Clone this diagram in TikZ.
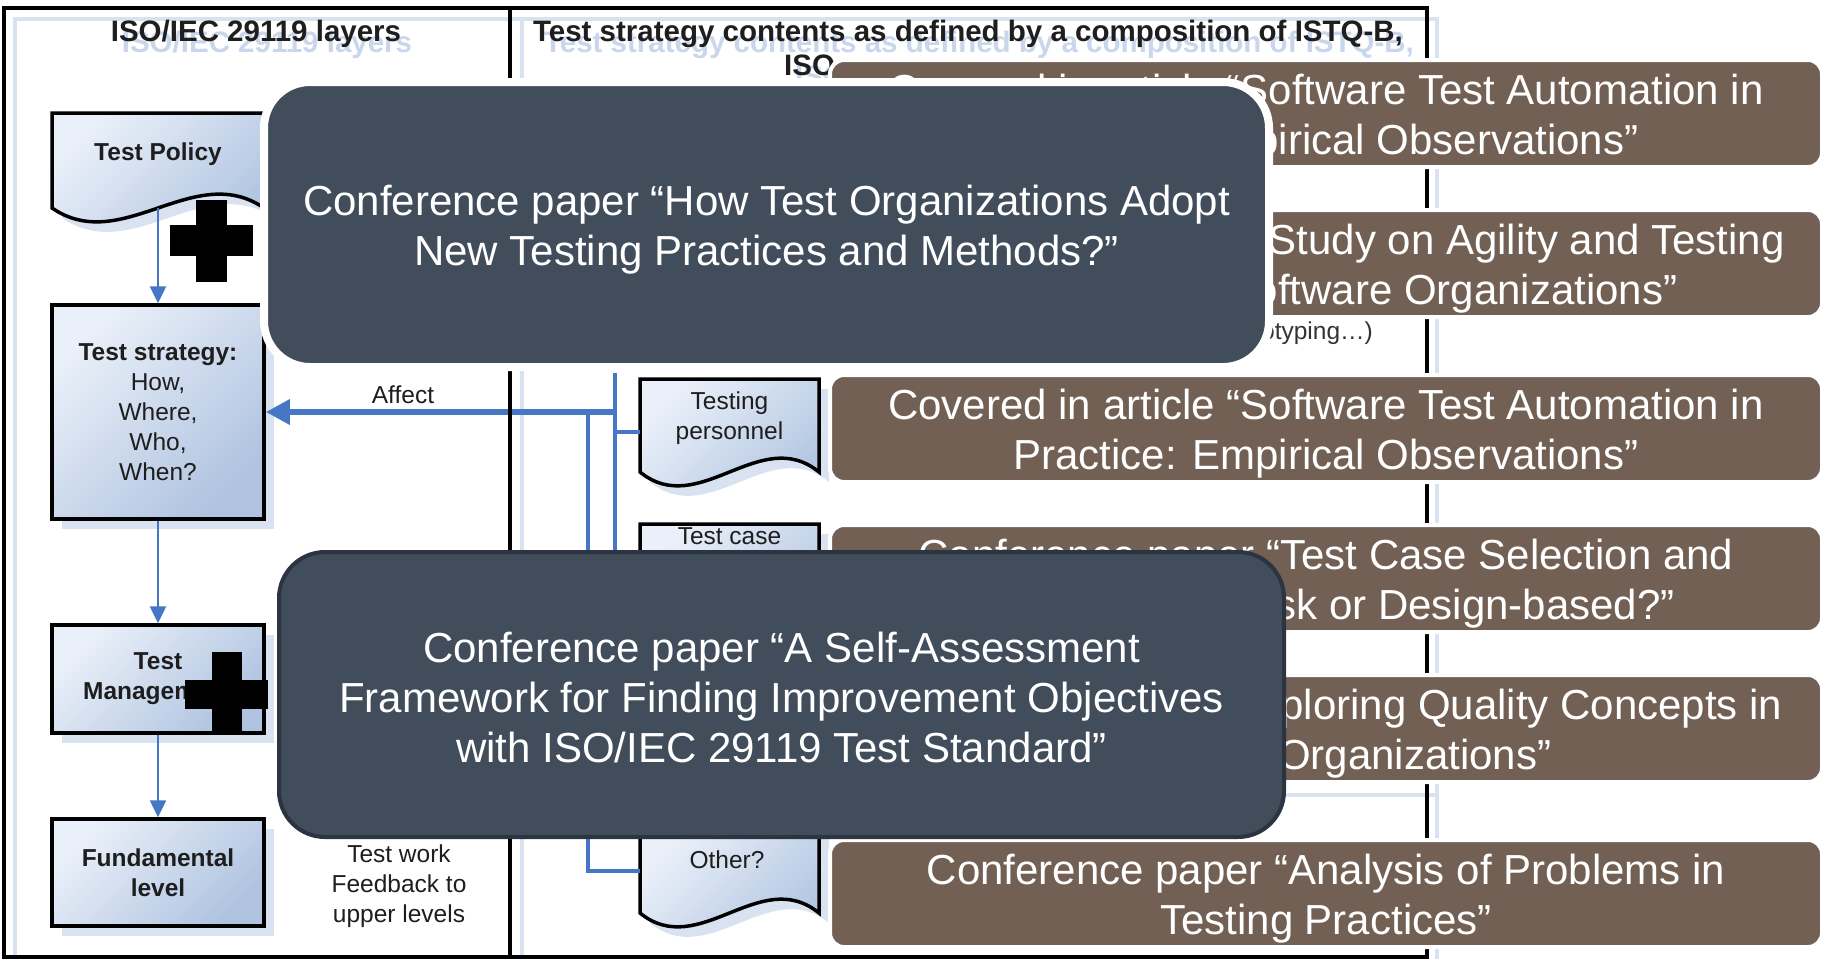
\documentclass[tikz,border=0pt]{standalone}
\usepackage{fontspec}
\setmainfont{Liberation Sans}
\usetikzlibrary{arrows.meta}
\definecolor{darkslate}{HTML}{414D5B}
\definecolor{darkedge}{HTML}{2B3440}
\definecolor{brownbox}{HTML}{726054}
\definecolor{busblue}{HTML}{4677C4}
\definecolor{boxlight}{HTML}{EAF0F9}
\definecolor{boxdark}{HTML}{AFC3E0}
\definecolor{shadowblue}{HTML}{D8E2F1}
\definecolor{ghostblue}{HTML}{C9D6EC}
\definecolor{inktext}{HTML}{1E1E1E}
\newcommand\paperbox[3]{%
  \node[brownpanel] (#1) at (1326,#2) {};
  \node[bigtext] (#1text) at (1326,#2+5) {#3};}
\begin{document}
\begin{tikzpicture}[x=1pt,y=-1pt,
  bigtext/.style={font=\fontsize{42}{50}\selectfont, text=white, align=center, inner sep=0pt},
  brownpanel/.style={fill=brownbox, draw=white, line width=4pt, rounded corners=14pt,
    minimum width=992pt, minimum height=107pt, inner sep=0pt},
  darkpanel/.style={fill=darkslate, rounded corners=46pt, inner sep=0pt,
    minimum width=1005pt, minimum height=285pt},
  headtext/.style={font=\bfseries\fontsize{29.5}{34}\selectfont, text=inktext, inner sep=0pt},
  ghosttext/.style={font=\bfseries\fontsize{29.5}{34}\selectfont, text=ghostblue, inner sep=0pt},
  boxlabel/.style={font=\bfseries\fontsize{24.5}{30}\selectfont, text=inktext, align=center, inner sep=0pt},
  smalltext/.style={font=\fontsize{24.5}{30}\selectfont, text=inktext, align=center, inner sep=0pt},
  layerbox/.style={draw=black, line width=3.5pt, top color=boxlight, bottom color=boxdark, shading angle=45,
    minimum width=212pt, inner sep=0pt, align=center, text=inktext,
    font=\bfseries\fontsize{24.5}{30}\selectfont,
    preaction={fill=shadowblue, transform canvas={shift={(10pt,-10pt)}}}},
  docshape/.style={draw=black, line width=3.5pt, top color=boxlight, bottom color=boxdark, shading angle=45},
  docshadow/.style={fill=shadowblue, shift={(10,10)}},
  area/.style={inner sep=0pt, minimum width=179pt},
  flowarrow/.style={draw=busblue, line width=2.5pt, -{Triangle[length=17pt,width=16pt]}},
  affectarrow/.style={draw=busblue, line width=6pt, -{Triangle[length=24pt,width=24pt]}},
  busline/.style={draw=busblue, line width=4.5pt},
  frameline/.style={draw=black, line width=3.5pt},
  frameshadow/.style={draw=shadowblue, line width=4pt}
]
\useasboundingbox[fill=white] (0,0) rectangle (1828,959);

% frame shadows
\draw[frameshadow] (15,959) -- (15,19) -- (1437,19) -- (1437,959);
\draw[frameshadow] (522,19) -- (522,959);
\draw[frameshadow] (900,795) -- (1437,795);

% headers
\node[ghosttext, anchor=base] (ghostL) at (267,52) {ISO/IEC 29119 layers};
\node[headtext, anchor=base] (titleL) at (256,41) {ISO/IEC 29119 layers};
\node[ghosttext, anchor=base] (ghostR1) at (979,52) {Test strategy contents as defined by a composition of ISTQ-B,};
\node[headtext, anchor=base] (titleR1) at (968,41) {Test strategy contents as defined by a composition of ISTQ-B,};
\node[ghosttext, anchor=base west] (ghostR2) at (795,86) {ISO};
\node[headtext, anchor=base west] (titleR2) at (784,75) {ISO};

% test policy (document shape)
\fill[docshadow] (52,113) -- (264,113) -- (264,208) .. controls (194,160) and (122,256) .. (52,208) -- cycle;
\draw[docshape] (52,113) -- (264,113) -- (264,208) .. controls (194,160) and (122,256) .. (52,208) -- cycle;
\node[inner sep=0pt, minimum width=212pt, minimum height=95pt] (policy) at (158,160.5) {};
\node[boxlabel] (policytext) at (158,154) {Test Policy};

% layer boxes
\node[layerbox, minimum height=214pt] (strategy) at (158,412)
  {Test strategy:\\\textmd{How,}\\\textmd{Where,}\\\textmd{Who,}\\\textmd{When?}};
\node[layerbox, minimum height=108pt] (mgmt) at (158,679) {Test\\Management};
\node[layerbox, minimum height=107pt] (fund) at (158,872.5) {Fundamental\\level};

\draw[flowarrow] (policy.south) -- (strategy.north);
\draw[flowarrow] (strategy.south) -- (mgmt.north);
\draw[flowarrow] (mgmt.south) -- (fund.north);

\node[smalltext] (feedback) at (399,886) {Test work\\Feedback to\\upper levels};
\node[smalltext] (affectlabel) at (403,395) {Affect};

% right inner document boxes
\fill[docshadow] (640,379) -- (819,379) -- (819,472) .. controls (760,424) and (699,520) .. (640,472) -- cycle;
\draw[docshape] (640,379) -- (819,379) -- (819,472) .. controls (760,424) and (699,520) .. (640,472) -- cycle;
\node[area, minimum height=106pt] (personnel) at (729.5,432) {};
\node[smalltext] (personneltext) at (729.5,418) {Testing\\personnel};

\fill[docshadow] (640,524) -- (819,524) -- (819,617) .. controls (760,569) and (699,665) .. (640,617) -- cycle;
\draw[docshape] (640,524) -- (819,524) -- (819,617) .. controls (760,569) and (699,665) .. (640,617) -- cycle;
\node[area, minimum height=93pt] (testcase) at (729.5,570) {};
\node[smalltext, anchor=base] (testcasetext) at (729.5,544) {Test case};

\fill[docshadow] (640,829) -- (819,829) -- (819,913) .. controls (760,865) and (699,961) .. (640,913) -- cycle;
\draw[docshape] (640,829) -- (819,829) -- (819,913) .. controls (760,865) and (699,961) .. (640,913) -- cycle;
\node[area, minimum height=84pt] (other) at (729.5,871) {};
\node[smalltext] (othertext) at (727,860) {Other?};

% bus lines
\coordinate (affectsrc) at (615,412);
\coordinate (busAtop) at (615,373);
\coordinate (busAend) at (615,640);
\coordinate (busBtop) at (588,412);
\draw[busline] (busAtop) -- (busAend);
\draw[busline] (personnel.west -| busAtop) -- (personnel.west);
\draw[busline] (testcase.west -| busAtop) -- (testcase.west);
\draw[busline] (busBtop) |- (other.west);
\draw[affectarrow] (affectsrc) -- (strategy.east);

% frame
\draw[frameline] (4,8) rectangle (1427,957);
\draw[frameline] (510,8) -- (510,957);

\node[smalltext, anchor=base east, text=black!80] (typing) at (1373,339) {(prototyping…)};

% crosses
\fill[black] (196,200) rectangle (227,282);
\fill[black] (170,225) rectangle (253,256);
\fill[black] (212,652) rectangle (242,735);
\fill[black] (185,680) rectangle (268,709);

% brown panels
\paperbox{paperA}{113.5}{Covered in article “Software Test Automation in\\Practice: Empirical Observations”}
\paperbox{paperB}{263.5}{Conference paper “A Study on Agility and Testing\\Processes in Software Organizations”}
\paperbox{paperC}{428.5}{Covered in article “Software Test Automation in\\Practice: Empirical Observations”}
\paperbox{paperD}{578.5}{Conference paper “Test Case Selection and\\Prioritization: Risk or Design-based?”}
\paperbox{paperE}{728.5}{Conference paper “Exploring Quality Concepts in\\Software Organizations”}
\paperbox{paperF}{893.5}{Conference paper “Analysis of Problems in\\Testing Practices”}

% dark panels
\node[darkpanel, draw=white, line width=8pt] (adopt) at (766.5,224.5) {};
\node[bigtext] (adopttext) at (766.5,230) {Conference paper “How Test Organizations Adopt\\New Testing Practices and Methods?”};
\node[darkpanel, draw=darkedge, line width=4pt] (selfassess) at (781.5,694.5) {};
\node[bigtext] (selfassesstext) at (781.5,697) {Conference paper “A Self-Assessment\\Framework for Finding Improvement Objectives\\with ISO/IEC 29119 Test Standard”};
\end{tikzpicture}
\end{document}
